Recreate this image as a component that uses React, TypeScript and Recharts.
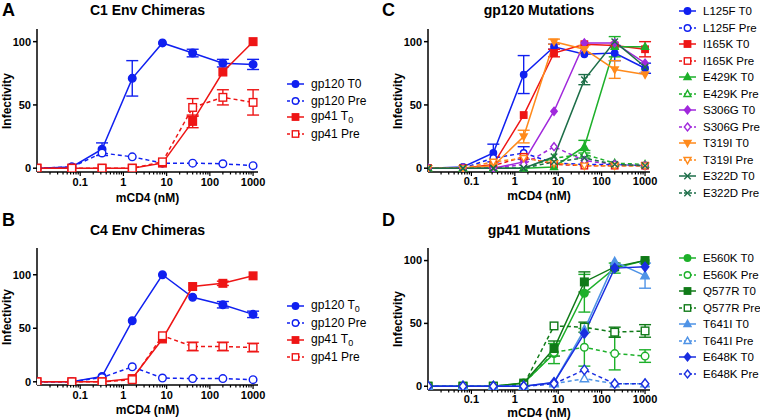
import React from "react";
import { LineChart, Line, XAxis, YAxis, ErrorBar } from "recharts";

// concentrations (nM); first point is the no-mCD4 control, drawn at the axis
const conc = [0.01, 0.064, 0.32, 1.6, 8, 40, 200, 1000];
const majorTicks = [0.1, 1, 10, 100, 1000];
const minorSteps = [2, 3, 4, 5, 6, 7, 8, 9];
const minorDecades = [0.01, 0.1, 1, 10, 100];
const yTicks = [0, 50, 100];

// A: C1 Env chimeras
const gp120T0_A = [0, 1, 15, 71, 99, 91, 83, 82];
const gp120T0_A_err = [0, 0, 5, 14, 0, 3, 3, 4];
const gp120Pre_A = [0, 1, 12, 9, 4, 4, 3.5, 2];
const gp41T0_A = [0, 0, 0, 0, 4, 37, 76, 100];
const gp41T0_A_err = [0, 0, 0, 0, 0, 5, 0, 0];
const gp41Pre_A = [0, 0, 0, 0, 5, 48, 56, 52];
const gp41Pre_A_err = [0, 0, 0, 0, 0, 7, 6, 10];

// B: C4 Env chimeras
const gp120T0_B = [0, 0, 5, 57, 100, 79, 72, 63];
const gp120T0_B_err = [0, 0, 0, 0, 0, 0, 3, 3];
const gp120Pre_B = [0, 0, 4, 14, 3.5, 3, 3, 2];
const gp41T0_B = [0, 0, 0, 3, 40, 89, 92, 99];
const gp41T0_B_err = [0, 0, 0, 0, 0, 0, 2, 0];
const gp41Pre_B = [0, 0, 0, 2, 43, 33, 33, 32];
const gp41Pre_B_err = [0, 0, 0, 0, 0, 4, 4, 4];

// C: gp120 mutations
const L125F_T0 = [0, 1, 12, 74, 96, 90, 91, 79];
const L125F_T0_err = [0, 0, 7, 15, 2, 0, 6, 4];
const L125F_Pre = [0, 0, 8, 12, 4, 3, 3, 2];
const L125F_Pre_err = [0, 0, 0, 5, 0, 0, 0, 0];
const I165K_T0 = [0, 0, 3, 42, 91, 98, 97, 94];
const I165K_T0_err = [0, 0, 0, 0, 3, 0, 0, 6];
const I165K_Pre = [0, 0, 2, 9, 3, 2, 2, 2];
const E429K_T0 = [0, 0, 0, 0, 1, 17, 96, 96];
const E429K_T0_err = [0, 0, 0, 0, 0, 5, 8, 0];
const E429K_Pre = [0, 0, 0, 0, 8, 11, 4, 3];
const E429K_Pre_err = [0, 0, 0, 0, 0, 3, 0, 0];
const S306G_T0 = [0, 0, 0, 5, 45, 99, 99, 83];
const S306G_Pre = [0, 0, 0, 3, 17, 6, 3, 2];
const T319I_T0 = [0, 0, 2, 25, 100, 94, 78, 74];
const T319I_T0_err = [0, 0, 0, 5, 2, 3, 7, 0];
const T319I_Pre = [0, 0, 5, 8, 4, 2, 2, 2];
const E322D_T0 = [0, 0, 0, 0, 9, 70, 100, 80];
const E322D_T0_err = [0, 0, 0, 0, 0, 4, 0, 0];
const E322D_Pre = [0, 0, 0, 0, 5, 8, 3, 2];

// D: gp41 mutations
const E560K_T0 = [0, 0, 0, 2.5, 26, 74, 94, 100];
const E560K_T0_err = [0, 0, 0, 0, 8, 15, 4, 0];
const E560K_Pre = [0, 0, 0, 2, 27, 31, 26, 24];
const E560K_Pre_err = [0, 0, 0, 0, 0, 15, 13, 5];
const Q577R_T0 = [0, 0, 0, 2.5, 30, 83, 95, 100];
const Q577R_T0_err = [0, 0, 0, 0, 6, 8, 0, 0];
const Q577R_Pre = [0, 0, 0, 1, 48, 47, 43, 44];
const Q577R_Pre_err = [0, 0, 0, 0, 0, 4, 4, 5];
const T641I_T0 = [0, 0, 0, 0, 3, 45, 99, 88];
const T641I_T0_err = [0, 0, 0, 0, 0, 0, 0, 10];
const T641I_Pre = [0, 0, 0, 0, 2, 6, 2, 2];
const E648K_T0 = [0, 0, 0, 0, 3, 42, 94, 95];
const E648K_Pre = [0, 0, 0, 0, 2, 13, 2, 2];

const BLUE = "#1020f0";
const RED = "#ee1515";
const GREEN = "#1db02a";
const DKGREEN = "#1d6e48";
const Q_GREEN = "#107a18";
const PURPLE = "#a028dc";
const ORANGE = "#ff8a1c";
const LTBLUE = "#4f93e6";
const E648_BLUE = "#1a2ee0";

type Shape = "circle" | "square" | "triangle" | "triangleDown" | "diamond" | "cross";
type Series = {
  key: string;
  label: string;
  color: string;
  shape: Shape;
  open: boolean;
  values: number[];
  err?: number[];
};

const seriesA: Series[] = [
  { key: "a1", label: "gp120 T0", color: BLUE, shape: "circle", open: false, values: gp120T0_A, err: gp120T0_A_err },
  { key: "a2", label: "gp120 Pre", color: BLUE, shape: "circle", open: true, values: gp120Pre_A },
  { key: "a3", label: "gp41 T₀", color: RED, shape: "square", open: false, values: gp41T0_A, err: gp41T0_A_err },
  { key: "a4", label: "gp41 Pre", color: RED, shape: "square", open: true, values: gp41Pre_A, err: gp41Pre_A_err },
];
const seriesB: Series[] = [
  { key: "b1", label: "gp120 T₀", color: BLUE, shape: "circle", open: false, values: gp120T0_B, err: gp120T0_B_err },
  { key: "b2", label: "gp120 Pre", color: BLUE, shape: "circle", open: true, values: gp120Pre_B },
  { key: "b3", label: "gp41 T₀", color: RED, shape: "square", open: false, values: gp41T0_B, err: gp41T0_B_err },
  { key: "b4", label: "gp41 Pre", color: RED, shape: "square", open: true, values: gp41Pre_B, err: gp41Pre_B_err },
];
const seriesC: Series[] = [
  { key: "c1", label: "L125F T0", color: BLUE, shape: "circle", open: false, values: L125F_T0, err: L125F_T0_err },
  { key: "c2", label: "L125F Pre", color: BLUE, shape: "circle", open: true, values: L125F_Pre, err: L125F_Pre_err },
  { key: "c3", label: "I165K T0", color: RED, shape: "square", open: false, values: I165K_T0, err: I165K_T0_err },
  { key: "c4", label: "I165K Pre", color: RED, shape: "square", open: true, values: I165K_Pre },
  { key: "c5", label: "E429K T0", color: GREEN, shape: "triangle", open: false, values: E429K_T0, err: E429K_T0_err },
  { key: "c6", label: "E429K Pre", color: GREEN, shape: "triangle", open: true, values: E429K_Pre, err: E429K_Pre_err },
  { key: "c7", label: "S306G T0", color: PURPLE, shape: "diamond", open: false, values: S306G_T0 },
  { key: "c8", label: "S306G Pre", color: PURPLE, shape: "diamond", open: true, values: S306G_Pre },
  { key: "c9", label: "T319I T0", color: ORANGE, shape: "triangleDown", open: false, values: T319I_T0, err: T319I_T0_err },
  { key: "c10", label: "T319I Pre", color: ORANGE, shape: "triangleDown", open: true, values: T319I_Pre },
  { key: "c11", label: "E322D T0", color: DKGREEN, shape: "cross", open: false, values: E322D_T0, err: E322D_T0_err },
  { key: "c12", label: "E322D Pre", color: DKGREEN, shape: "cross", open: true, values: E322D_Pre },
];
const seriesD: Series[] = [
  { key: "d1", label: "E560K T0", color: GREEN, shape: "circle", open: false, values: E560K_T0, err: E560K_T0_err },
  { key: "d2", label: "E560K Pre", color: GREEN, shape: "circle", open: true, values: E560K_Pre, err: E560K_Pre_err },
  { key: "d3", label: "Q577R T0", color: Q_GREEN, shape: "square", open: false, values: Q577R_T0, err: Q577R_T0_err },
  { key: "d4", label: "Q577R Pre", color: Q_GREEN, shape: "square", open: true, values: Q577R_Pre, err: Q577R_Pre_err },
  { key: "d5", label: "T641I T0", color: LTBLUE, shape: "triangle", open: false, values: T641I_T0, err: T641I_T0_err },
  { key: "d6", label: "T641I Pre", color: LTBLUE, shape: "triangle", open: true, values: T641I_Pre },
  { key: "d7", label: "E648K T0", color: E648_BLUE, shape: "diamond", open: false, values: E648K_T0 },
  { key: "d8", label: "E648K Pre", color: E648_BLUE, shape: "diamond", open: true, values: E648K_Pre },
];

const minorTicks = minorDecades.flatMap((d) => minorSteps.map((s) => d * s));
const allTicks = [...majorTicks, ...minorTicks];

function Marker({ x, y, shape, color, open, r }: { x: number; y: number; shape: Shape; color: string; open: boolean; r: number }) {
  const fill = open ? "#fff" : color;
  const sw = 1.4;
  if (shape === "circle") return <circle cx={x} cy={y} r={r} fill={fill} stroke={color} strokeWidth={sw} />;
  if (shape === "square")
    return <rect x={x - r} y={y - r} width={2 * r} height={2 * r} fill={fill} stroke={color} strokeWidth={sw} />;
  if (shape === "triangle")
    return (
      <polygon
        points={`${x},${y - r * 1.2} ${x + r * 1.1},${y + r * 0.8} ${x - r * 1.1},${y + r * 0.8}`}
        fill={fill}
        stroke={color}
        strokeWidth={sw}
      />
    );
  if (shape === "triangleDown")
    return (
      <polygon
        points={`${x},${y + r * 1.2} ${x + r * 1.1},${y - r * 0.8} ${x - r * 1.1},${y - r * 0.8}`}
        fill={fill}
        stroke={color}
        strokeWidth={sw}
      />
    );
  if (shape === "diamond")
    return (
      <polygon
        points={`${x},${y - r * 1.25} ${x + r},${y} ${x},${y + r * 1.25} ${x - r},${y}`}
        fill={fill}
        stroke={color}
        strokeWidth={sw}
      />
    );
  return (
    <g stroke={color} strokeWidth={sw}>
      <line x1={x - r} y1={y - r} x2={x + r} y2={y + r} />
      <line x1={x - r} y1={y + r} x2={x + r} y2={y - r} />
    </g>
  );
}

function XTick(props: any) {
  const { x, y, payload, labelDy } = props;
  const major = majorTicks.includes(payload.value);
  return (
    <g>
      <line x1={x} x2={x} y1={y} y2={y + (major ? 4 : 2.5)} stroke="#000" strokeWidth={1.2} />
      {major && (
        <text x={x} y={y + labelDy} textAnchor="middle" fontSize={11} fontWeight="bold" fill="#000">
          {String(payload.value)}
        </text>
      )}
    </g>
  );
}

function LegendLabel({ text }: { text: string }) {
  if (text.endsWith("T₀")) {
    return (
      <span>
        {text.slice(0, -1)}
        <sub style={{ fontSize: 9 }}>0</sub>
      </span>
    );
  }
  return <span>{text}</span>;
}

type PanelProps = {
  left: number;
  top: number;
  plot: { l: number; r: number; t: number; b: number };
  yMax: number;
  series: Series[];
  r: number;
  letter: string;
  title: string;
  titleY: number;
  xLabelY: number;
  tickDy: number;
  legend: { x: number; y: number; gap: number; size: number };
};

function Panel({ left, top, plot, yMax, series, r, letter, title, titleY, xLabelY, tickDy, legend }: PanelProps) {
  const W = 380;
  const H = 210;
  const rows = conc.map((x, i) => {
    const row: Record<string, number> = { x };
    series.forEach((s) => {
      row[s.key] = s.values[i];
      if (s.err) row[s.key + "_e"] = s.err[i];
    });
    return row;
  });
  const cx = (plot.l + plot.r) / 2 - left;
  return (
    <div style={{ position: "absolute", left, top, width: W, height: H }}>
      <div style={{ position: "absolute", left: 2, top: 0, fontSize: 18, fontWeight: "bold", lineHeight: "20px" }}>
        {letter}
      </div>
      <div
        style={{
          position: "absolute",
          left: cx - 100,
          width: 200,
          top: titleY - top - 9,
          lineHeight: "18px",
          textAlign: "center",
          fontSize: 14,
          fontWeight: "bold",
        }}
      >
        {title}
      </div>
      <div
        style={{
          position: "absolute",
          left: plot.l - left - 30 - 50,
          top: (plot.t + plot.b) / 2 - top - 8,
          width: 100,
          lineHeight: "16px",
          textAlign: "center",
          transform: "rotate(-90deg)",
          fontSize: 12,
          fontWeight: "bold",
        }}
      >
        Infectivity
      </div>
      <div
        style={{
          position: "absolute",
          left: cx - 60,
          width: 120,
          top: xLabelY - top - 7,
          lineHeight: "14px",
          textAlign: "center",
          fontSize: 12,
          fontWeight: "bold",
        }}
      >
        mCD4 (nM)
      </div>
      <div style={{ position: "absolute", left: 0, top: 0 }}>
        <LineChart
          width={W}
          height={H}
          data={rows}
          margin={{ top: plot.t - top, right: left + W - plot.r, bottom: 0, left: 0 }}
        >
          <XAxis
            dataKey="x"
            type="number"
            scale="log"
            domain={[0.01, 1300]}
            allowDataOverflow
            ticks={allTicks}
            interval={0}
            tick={<XTick labelDy={tickDy} />}
            tickLine={false}
            tickSize={0}
            tickMargin={0}
            height={top + H - plot.b}
            axisLine={{ stroke: "#000", strokeWidth: 1.5 }}
          />
          <YAxis
            type="number"
            domain={[-3, yMax]}
            allowDataOverflow
            ticks={yTicks}
            interval={0}
            width={plot.l - left}
            tick={{ fill: "#000", fontSize: 11, fontWeight: "bold" }}
            tickLine={{ stroke: "#000", strokeWidth: 1.5 }}
            tickSize={4}
            tickMargin={2}
            axisLine={{ stroke: "#000", strokeWidth: 1.5 }}
          />
          {series.map((s) => (
            <Line
              key={s.key}
              dataKey={s.key}
              type="linear"
              stroke={s.color}
              strokeWidth={1.5}
              strokeDasharray={s.open ? "4 3" : undefined}
              isAnimationActive={false}
              dot={(p: any) => (
                <Marker key={p.index} x={p.cx} y={p.cy} shape={s.shape} color={s.color} open={s.open} r={r} />
              )}
              activeDot={false}
            >
              {s.err && (
                <ErrorBar
                  dataKey={s.key + "_e"}
                  direction="y"
                  width={6}
                  stroke={s.color}
                  strokeWidth={1.4}
                  isAnimationActive={false}
                />
              )}
            </Line>
          ))}
        </LineChart>
      </div>
      {series.map((s, i) => (
        <div
          key={s.key}
          style={{
            position: "absolute",
            left: legend.x - left,
            top: legend.y - top + i * legend.gap - 8,
            height: 16,
            display: "flex",
            alignItems: "center",
            fontSize: legend.size,
            whiteSpace: "nowrap",
          }}
        >
          <svg width={20} height={14} style={{ marginRight: 5 }}>
            <line
              x1={1}
              x2={18}
              y1={7}
              y2={7}
              stroke={s.color}
              strokeWidth={1.5}
              strokeDasharray={s.open ? "3 2" : undefined}
            />
            <Marker x={9.5} y={7} shape={s.shape} color={s.color} open={s.open} r={3.2} />
          </svg>
          <LegendLabel text={s.label} />
        </div>
      ))}
    </div>
  );
}

export default function App() {
  return (
    <div
      style={{
        position: "absolute",
        left: 0,
        top: 0,
        width: 760,
        height: 420,
        background: "#fff",
        fontFamily: "'Liberation Sans', Arial, sans-serif",
        color: "#000",
      }}
    >
      <Panel
        left={0}
        top={0}
        plot={{ l: 37, r: 258, t: 29, b: 172 }}
        yMax={110}
        series={seriesA}
        r={3.8}
        letter="A"
        title="C1 Env Chimeras"
        titleY={10}
        xLabelY={198}
        tickDy={14}
        legend={{ x: 286, y: 84, gap: 16.6, size: 12 }}
      />
      <Panel
        left={0}
        top={210}
        plot={{ l: 37, r: 258, t: 248, b: 385 }}
        yMax={125}
        series={seriesB}
        r={3.8}
        letter="B"
        title="C4 Env Chimeras"
        titleY={230}
        xLabelY={410}
        tickDy={14}
        legend={{ x: 286, y: 306, gap: 17, size: 12 }}
      />
      <Panel
        left={380}
        top={0}
        plot={{ l: 428, r: 650, t: 29, b: 172 }}
        yMax={110}
        series={seriesC}
        r={3.2}
        letter="C"
        title="gp120 Mutations"
        titleY={10}
        xLabelY={196}
        tickDy={13}
        legend={{ x: 678, y: 11, gap: 16.5, size: 11.5 }}
      />
      <Panel
        left={380}
        top={210}
        plot={{ l: 428, r: 650, t: 248, b: 390 }}
        yMax={110}
        series={seriesD}
        r={3.8}
        letter="D"
        title="gp41 Mutations"
        titleY={230}
        xLabelY={413}
        tickDy={13}
        legend={{ x: 678, y: 258, gap: 16.5, size: 11.5 }}
      />
    </div>
  );
}
